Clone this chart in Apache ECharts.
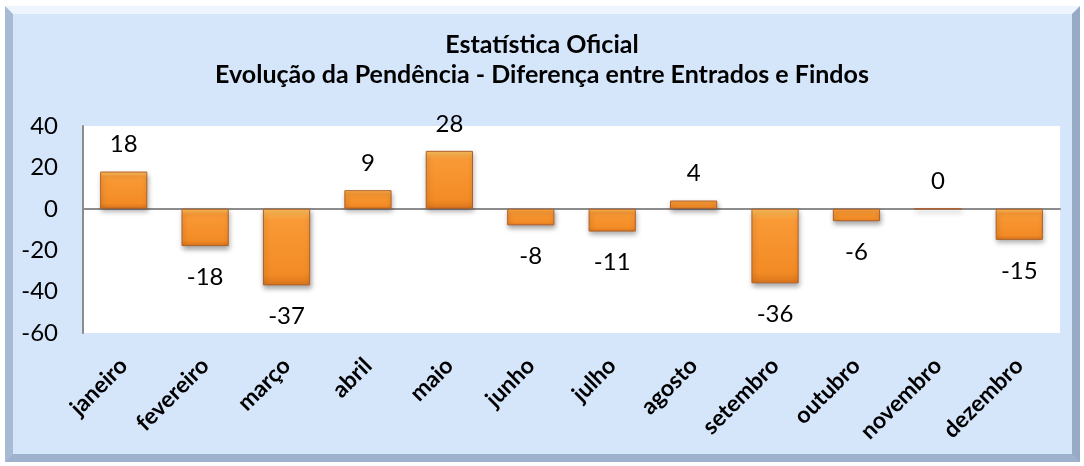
<!DOCTYPE html>
<html lang="pt">
<head>
    <meta charset="UTF-8">
    <title>Estatística Oficial</title>
    <script src="https://cdn.jsdelivr.net/npm/echarts@6/dist/echarts.min.js"></script>
    <style>
        html, body { margin: 0; padding: 0; background: #ffffff; }
        #frame {
            position: absolute;
            left: 5px; top: 6px;
            width: 1059px; height: 440px;
            background: #d5e5fa;
            border-style: solid;
            border-width: 8px;
            border-top-color: #eef5fe;
            border-left-color: #a9bbd4;
            border-right-color: #97abc7;
            border-bottom-color: #9fb2cd;
        }
        #container {
            position: absolute;
            left: 0; top: 0;
            width: 1084px; height: 466px;
        }
    </style>
</head>
<body>
<div id="frame"></div>
<div id="container"></div>
<script>
    // dados
    var meses = ['janeiro', 'fevereiro', 'março', 'abril', 'maio', 'junho',
        'julho', 'agosto', 'setembro', 'outubro', 'novembro', 'dezembro'];
    var diferenca = [18, -18, -37, 9, 28, -8, -11, 4, -36, -6, 0, -15];
    var yMin = -60, yMax = 40, yStep = 20;

    var fonte = 'Lato, "Noto Sans", sans-serif';

    var chart = echarts.init(document.getElementById('container'));

    var barras = diferenca.map(function (v) {
        return {
            value: v,
            label: v < 0 ? { position: 'bottom', distance: 19 } : { position: 'top', distance: 15 }
        };
    });

    var option = {
        backgroundColor: 'transparent',
        animation: false,
        title: {
            text: 'Estatística Oficial\nEvolução da Pendência - Diferença entre Entrados e Findos',
            left: 'center',
            top: 30,
            padding: 0,
            textStyle: {
                fontFamily: fonte,
                fontWeight: 'bold',
                fontSize: 25,
                lineHeight: 30,
                color: '#000000'
            }
        },
        grid: {
            left: 83,
            right: 24,
            top: 126,
            bottom: 133,
            show: true,
            backgroundColor: '#ffffff',
            borderWidth: 0
        },
        xAxis: [
            {
                type: 'category',
                data: meses,
                axisLine: { show: false, onZero: false },
                axisTick: { show: false },
                axisLabel: {
                    rotate: 45,
                    interval: 0,
                    margin: 29,
                    fontFamily: fonte,
                    fontWeight: 'bold',
                    fontSize: 23,
                    color: '#000000'
                }
            },
            {
                type: 'category',
                data: meses,
                position: 'bottom',
                axisLine: { show: true, onZero: true, lineStyle: { color: '#8c8c8c', width: 2 } },
                axisTick: { show: false },
                axisLabel: { show: false }
            }
        ],
        yAxis: {
            type: 'value',
            min: yMin,
            max: yMax,
            interval: yStep,
            axisLine: { show: true, lineStyle: { color: '#8c8c8c', width: 2 } },
            axisTick: { show: false },
            splitLine: { show: false },
            axisLabel: {
                margin: 25,
                fontFamily: fonte,
                fontSize: 24,
                color: '#000000'
            }
        },
        series: [
            {
                type: 'bar',
                xAxisIndex: 0,
                data: barras,
                barWidth: '58%',
                itemStyle: {
                    color: new echarts.graphic.LinearGradient(0, 0, 0, 1, [
                        { offset: 0, color: '#fdc15c' },
                        { offset: 0.15, color: '#f99a36' },
                        { offset: 0.85, color: '#f38b25' },
                        { offset: 1, color: '#d9741c' }
                    ]),
                    borderColor: '#b0602a',
                    borderWidth: 1,
                    shadowColor: 'rgba(0,0,0,0.35)',
                    shadowBlur: 5,
                    shadowOffsetX: 1,
                    shadowOffsetY: 3
                },
                label: {
                    show: true,
                    fontFamily: fonte,
                    fontSize: 24,
                    color: '#000000'
                }
            }
        ]
    };

    chart.setOption(option);
</script>
</body>
</html>
